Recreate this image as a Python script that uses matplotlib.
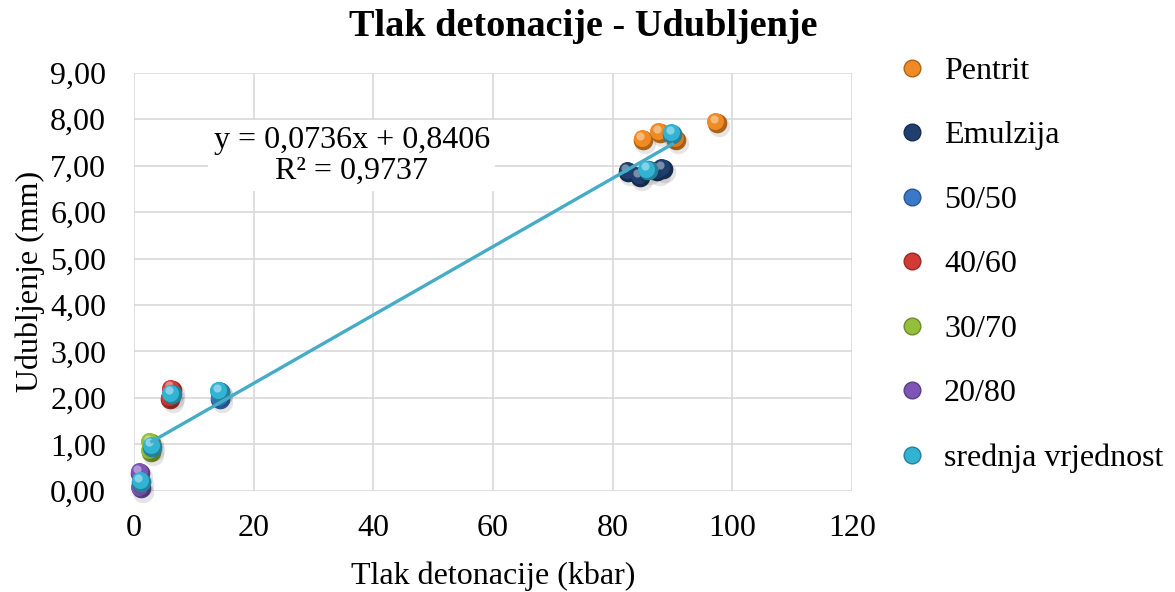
import numpy as np
import matplotlib.pyplot as plt
import matplotlib.transforms as mtransforms
from matplotlib.lines import Line2D
from matplotlib.ticker import FuncFormatter

plt.rcParams['font.family'] = ['Liberation Serif', 'DejaVu Serif']

# measured points per mixture: pressure (kbar), dent depth (mm)
pentrit_x = [85.1, 87.9, 90.6, 97.4]
pentrit_y = [7.56, 7.71, 7.56, 7.92]
emulzija_x = [82.6, 84.6, 88.4, 87.5]
emulzija_y = [6.87, 6.76, 6.93, 6.88]
mix5050_x = [14.4, 14.4]
mix5050_y = [2.13, 1.98]
mix4060_x = [6.3, 6.1]
mix4060_y = [2.18, 1.98]
mix3070_x = [2.8, 2.8]
mix3070_y = [1.03, 0.84]
mix2080_x = [1.0, 1.1]
mix2080_y = [0.38, 0.05]
mean_x = [1.2, 3.0, 6.3, 14.3, 85.9, 90.0]
mean_y = [0.19, 0.95, 2.08, 2.13, 6.90, 7.68]

# linear trend through the mean values
slope, intercept, r2 = 0.0736, 0.8406, 0.9737

series = [
    ('Pentrit', pentrit_x, pentrit_y, '#f08a24'),
    ('Emulzija', emulzija_x, emulzija_y, '#1f3f6e'),
    ('50/50', mix5050_x, mix5050_y, '#3a78c8'),
    ('40/60', mix4060_x, mix4060_y, '#d23a36'),
    ('30/70', mix3070_x, mix3070_y, '#94bf3a'),
    ('20/80', mix2080_x, mix2080_y, '#7d55b5'),
    ('srednja vrjednost', mean_x, mean_y, '#33b3d4'),
]

fig = plt.figure(figsize=(11.75, 5.92), dpi=100)
ax = fig.add_axes([0.114, 0.171, 0.611, 0.706])

def shade(c, f):
    c = np.array(plt.matplotlib.colors.to_rgb(c))
    return tuple(np.clip(c * f if f < 1 else c + (1 - c) * (f - 1), 0, 1))

def sphere(ax, x, y, color, z):
    # fake 3D ball: soft shadow, dark rim, body and a light spot
    def off(dx, dy):
        return mtransforms.offset_copy(ax.transData, fig=fig, x=dx, y=dy, units='points')
    kw = dict(linewidths=0, clip_on=False)
    ax.scatter(x, y, s=240, color='black', alpha=0.10, transform=off(1.5, -2.5), zorder=z, **kw)
    ax.scatter(x, y, s=200, color=shade(color, 0.72), zorder=z + 0.1, **kw)
    ax.scatter(x, y, s=150, color=color, transform=off(-1.0, 1.2), zorder=z + 0.2, **kw)
    ax.scatter(x, y, s=35, color=shade(color, 1.4), transform=off(-2.0, 3.0), zorder=z + 0.3, **kw)

handles = []
for i, (name, xs, ys, col) in enumerate(series):
    sphere(ax, xs, ys, col, 3 + i)
    handles.append(Line2D([], [], linestyle='none', marker='o', markersize=12,
                          markerfacecolor=col, markeredgecolor=shade(col, 0.72), label=name))

xl = np.array([3.0, 90.0])
ax.plot(xl, slope * xl + intercept, color='#45acc8', lw=2.4, zorder=20)

ax.set_xlim(0, 120)
ax.set_ylim(0, 9)
ax.set_xticks(range(0, 121, 20))
ax.set_yticks(range(0, 10))
ax.yaxis.set_major_formatter(FuncFormatter(lambda v, p: f'{v:.2f}'.replace('.', ',')))
ax.grid(True, color='#d9d9d9', lw=1.2)
ax.set_axisbelow(True)
for s in ax.spines.values():
    s.set_visible(False)
ax.tick_params(length=0, labelsize=23)
ax.tick_params(axis='x', pad=17)
ax.tick_params(axis='y', pad=20)

fig.text(0.496, 1 - 27 / 592, 'Tlak detonacije - Udubljenje', fontsize=27.5,
         fontweight='bold', ha='center', va='center')
ax.set_xlabel('Tlak detonacije (kbar)', fontsize=23, labelpad=13)
ax.set_ylabel('Udubljenje (mm)', fontsize=23, labelpad=4)

eq = f'y = {slope:.4f}x + {intercept:.4f}\nR² = {r2:.4f}'.replace('.', ',')
ax.text(36.4, 7.22, eq, fontsize=23, ha='center', va='center', linespacing=1.08,
        bbox=dict(facecolor='white', edgecolor='none', pad=4), zorder=25)

fig.legend(handles=handles, loc='upper left', bbox_to_anchor=(0.749, 0.926), frameon=False,
           fontsize=23, labelspacing=1.1, handletextpad=0.4, handlelength=1.2, borderaxespad=0)

fig.savefig('out.png', dpi=100)
